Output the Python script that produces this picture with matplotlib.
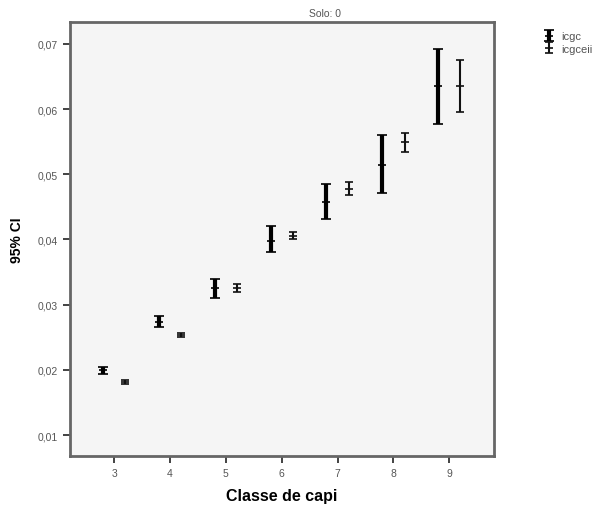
import numpy as np
import matplotlib
matplotlib.use("Agg")
import matplotlib.pyplot as plt
from matplotlib.ticker import FuncFormatter

# Classe de capi, Solo: 0 -- 95% CI per class
classes = np.array([3, 4, 5, 6, 7, 8, 9])

icgc_mean = np.array([0.0199, 0.0274, 0.0325, 0.0398, 0.0458, 0.0515, 0.0635])
icgc_low = np.array([0.0193, 0.0265, 0.0310, 0.0381, 0.0431, 0.0471, 0.0577])
icgc_high = np.array([0.0205, 0.0283, 0.0340, 0.0421, 0.0485, 0.0560, 0.0693])

icgceii_mean = np.array([0.0182, 0.0253, 0.0326, 0.0406, 0.0478, 0.0549, 0.0635])
icgceii_low = np.array([0.0179, 0.0250, 0.0320, 0.0400, 0.0468, 0.0534, 0.0595])
icgceii_high = np.array([0.0185, 0.0256, 0.0332, 0.0412, 0.0488, 0.0563, 0.0676])

yticks = [0.01, 0.02, 0.03, 0.04, 0.05, 0.06, 0.07]

plt.rcParams['font.family'] = ['Liberation Sans', 'DejaVu Sans']

fig = plt.figure(figsize=(5.99, 5.10), dpi=100)
ax = fig.add_axes([0.1169, 0.1039, 0.7078, 0.851])
ax.set_facecolor('#f5f5f5')

e1 = ax.errorbar(classes - 0.2, icgc_mean,
                 yerr=[icgc_mean - icgc_low, icgc_high - icgc_mean],
                 fmt='_', color='black', markersize=6, mew=1.2,
                 elinewidth=3, capsize=3.5, capthick=2.5, label='icgc')
e2 = ax.errorbar(classes + 0.2, icgceii_mean,
                 yerr=[icgceii_mean - icgceii_low, icgceii_high - icgceii_mean],
                 fmt='_', color='#111111', markersize=6, mew=1.2,
                 elinewidth=1.5, capsize=3, capthick=2, label='icgceii')

ax.set_xlim(2.21, 9.8)
ax.set_ylim(0.00678, 0.07337)
ax.set_xticks(classes)
ax.set_yticks(yticks)
ax.yaxis.set_major_formatter(FuncFormatter(lambda v, p: ('%.2f' % v).replace('.', ',')))
ax.tick_params(direction='out', length=5, width=1.2, color='#222222',
               labelsize=7.5, labelcolor='#555555')

for s in ax.spines.values():
    s.set_color('#666666')
    s.set_linewidth(2)

ax.set_xlabel('Classe de capi', fontsize=11.5, fontweight='bold', labelpad=7)
ax.set_ylabel('95% CI', fontsize=10, fontweight='bold', labelpad=10)
fig.text(0.5426, 0.972, 'Solo: 0', fontsize=7.5, color='#555555',
         ha='center', va='center')

fig.legend(handles=[e1, e2], loc='upper left', bbox_to_anchor=(0.903, 0.945),
           frameon=False, fontsize=8, handlelength=0.7, handletextpad=0.7,
           labelspacing=0.2, labelcolor='#555555', borderaxespad=0)

fig.savefig('out.png', dpi=100)
